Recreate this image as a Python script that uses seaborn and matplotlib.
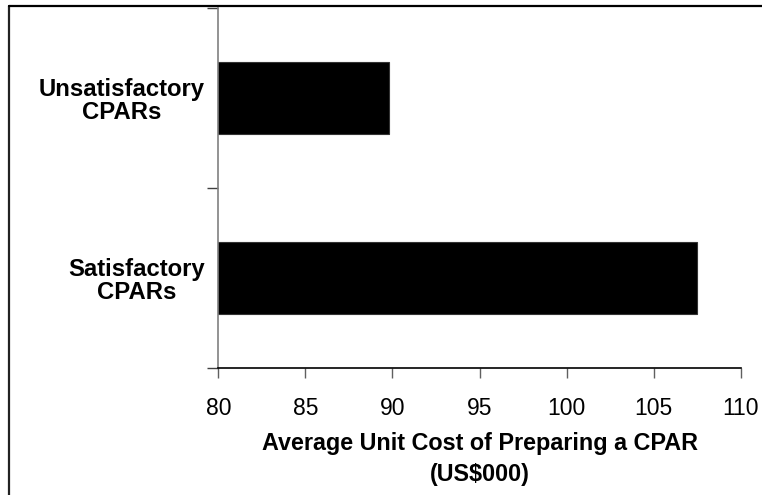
import matplotlib
matplotlib.use("Agg")
import matplotlib.pyplot as plt
import seaborn as sns
import pandas as pd
from matplotlib.lines import Line2D

categories = ["Unsatisfactory\nCPARs", "Satisfactory\nCPARs"]
values = [89.8, 107.5]
x_ticks = [80, 85, 90, 95, 100, 105, 110]
x_label = "Average Unit Cost of Preparing a CPAR\n(US$000)"

sns.set_theme(style="white")
plt.rcParams['font.family'] = ['Liberation Sans', 'DejaVu Sans']
plt.rcParams['text.color'] = 'black'
plt.rcParams['axes.labelcolor'] = 'black'
plt.rcParams['xtick.labelcolor'] = 'black'
plt.rcParams['ytick.labelcolor'] = 'black'

df = pd.DataFrame({"category": categories, "value": values})

fig = plt.figure(figsize=(7.62, 4.95), dpi=100)
ax = fig.add_axes([218.3 / 762, 1 - 368.3 / 495, (740.7 - 218.3) / 762, (368.3 - 8.3) / 495])

sns.barplot(data=df, x="value", y="category", orient="h", color="black",
            width=0.4, edgecolor="#333333", linewidth=0.8, saturation=1, ax=ax)

ax.set_xlim(80, 110)
ax.set_ylim(1.5, -0.5)
ax.set_xticks(x_ticks)
ax.set_xticklabels([str(t) for t in x_ticks], fontsize=16.5, color="black")
ax.set_yticks([0, 1])
ax.set_yticklabels(categories, fontsize=17.2, fontweight="bold", linespacing=1.0,
                   multialignment="center", color="black")
ax.set_yticks([-0.5, 0.5, 1.5], minor=True)
ax.tick_params(axis="y", which="major", length=0, pad=9.6)
ax.tick_params(axis="y", which="minor", length=8, width=1, color="#404040", left=True)
ax.tick_params(axis="x", which="major", length=7, width=1, color="#606060", pad=13.5, bottom=True)
ax.set_ylabel("")
ax.set_xlabel(x_label, fontsize=16.8, fontweight="bold", linespacing=1.45, labelpad=9,
              color="black")

for s in ["top", "right"]:
    ax.spines[s].set_visible(False)
ax.spines["left"].set_color("#808080")
ax.spines["left"].set_linewidth(1.2)
ax.spines["bottom"].set_color("black")
ax.spines["bottom"].set_linewidth(1.2)
ax.grid(False)

# figure frame (left and top edges visible)
fig.add_artist(Line2D([9 / 762, 9 / 762], [0, 1 - 6 / 495], transform=fig.transFigure,
                      color="#222222", linewidth=1.6))
fig.add_artist(Line2D([9 / 762, 1], [1 - 6 / 495, 1 - 6 / 495], transform=fig.transFigure,
                      color="#000000", linewidth=1.6))

fig.savefig("out.png", dpi=100)
